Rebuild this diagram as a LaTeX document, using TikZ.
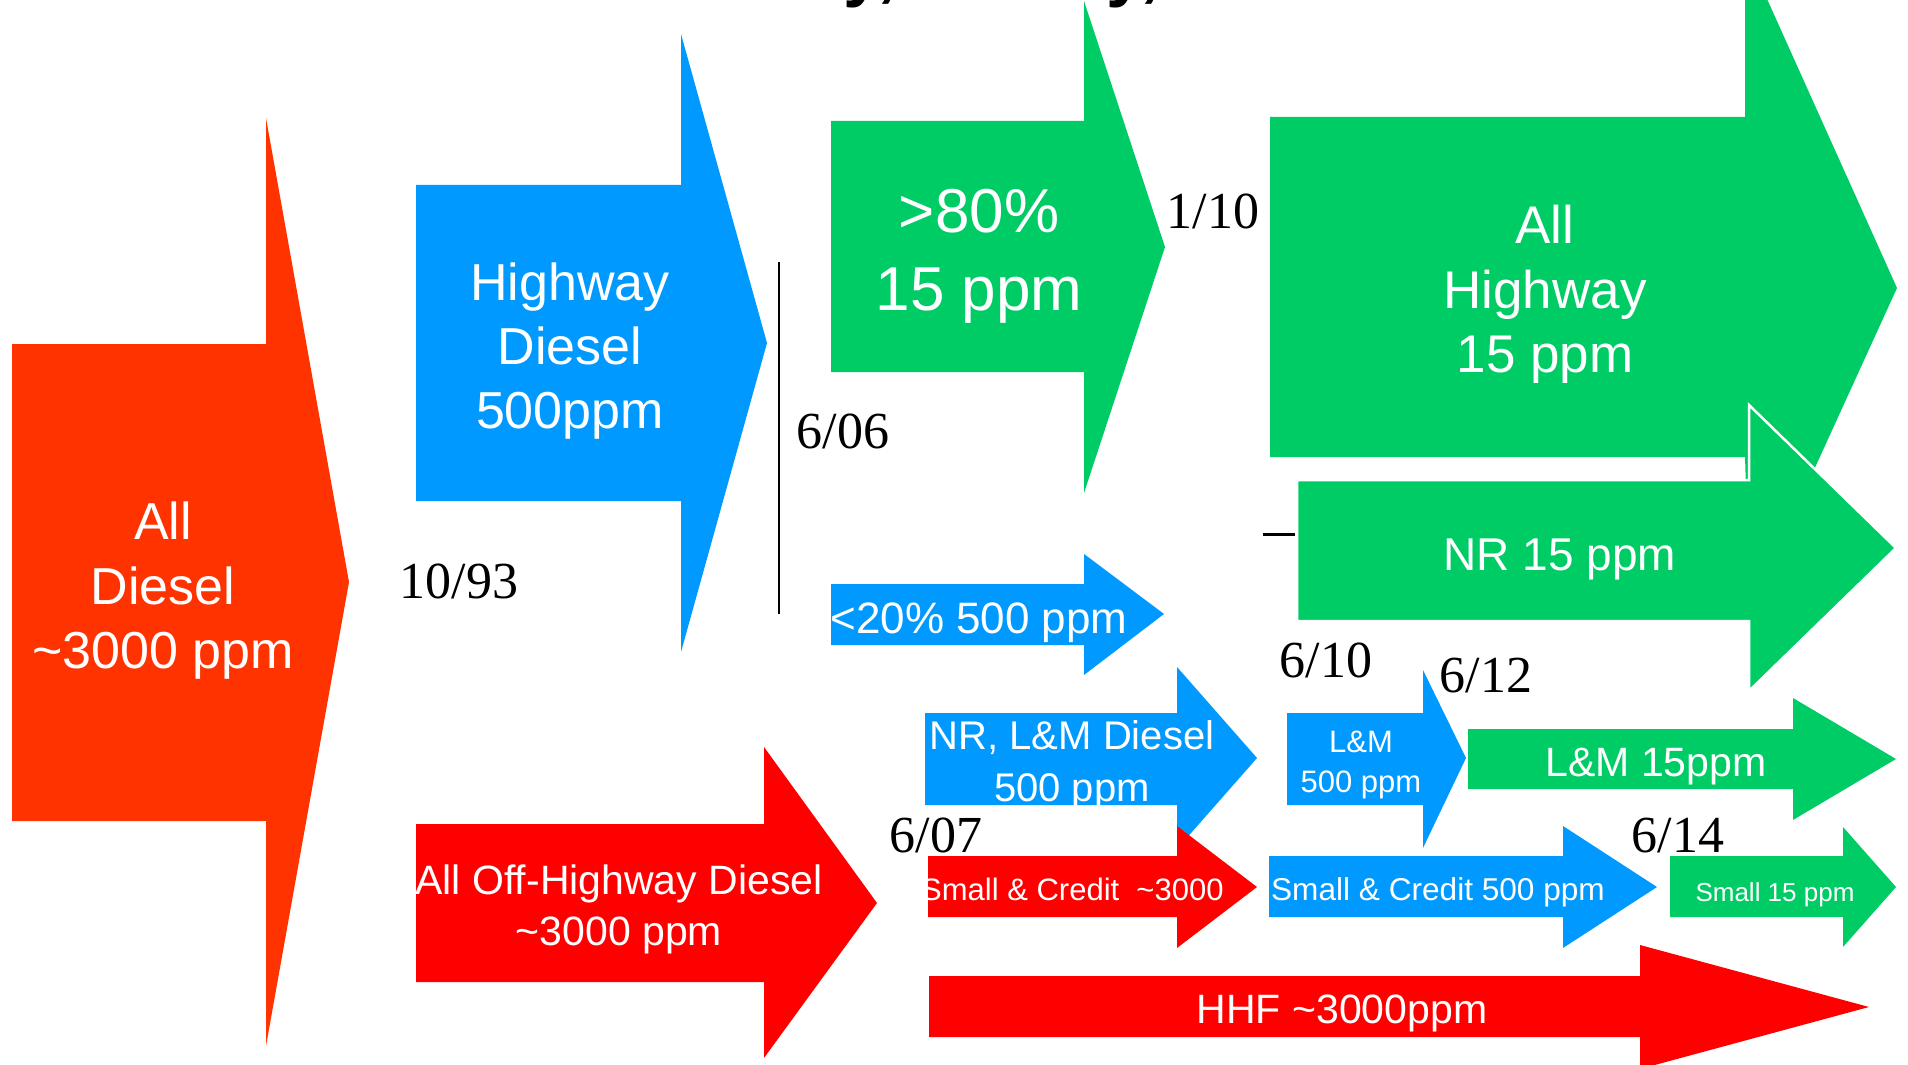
\documentclass[tikz,border=0pt]{standalone}
\usepackage{fontspec}
\setmainfont{Liberation Serif}
\newfontfamily\sansf{Liberation Sans}
\definecolor{cOrange}{HTML}{FF3300}
\definecolor{cBlue}{HTML}{0099FF}
\definecolor{cGreen}{HTML}{00CC66}
\definecolor{cRed}{HTML}{FF0000}
\newcommand\lsz[1]{\sansf\fontsize{#1}{#1}\selectfont}
\tikzset{
  lab/.style={text=white, inner sep=0pt, anchor=base},
  datelab/.style={text=black, inner sep=0pt, anchor=base, font={\fontsize{26}{26}\selectfont}},
  rulestroke/.style={draw=black, line width=1.25pt},
  titlefrag/.style={text=black, inner sep=0pt, anchor=base west, font={\sansf\bfseries\fontsize{35}{35}\selectfont}},
}
\begin{document}
\begin{tikzpicture}[x=0.5pt, y=-0.5pt]
\useasboundingbox (0,0) rectangle (1908,1065);
\clip (0,0) rectangle (1908,1065);

% title fragments cut off at the top
\node[titlefrag] (t1) at (843,-6) {y,};
\node[titlefrag] (t2) at (1106,-6) {y,};

% arrows
\fill[cOrange] (12,344) -- (266,344) -- (266,118) -- (349,582) -- (266,1046) -- (266,821) -- (12,821) -- cycle;
\fill[cBlue] (416,185) -- (681,185) -- (681,34) -- (767,343) -- (681,652) -- (681,501) -- (416,501) -- cycle;
\fill[cGreen] (831,121) -- (1084,121) -- (1084,1) -- (1165,247) -- (1084,493) -- (1084,372) -- (831,372) -- cycle;
\fill[cGreen] (1270,117) -- (1745,117) -- (1745,-50) -- (1897,288) -- (1750,610) -- (1745,457) -- (1270,457) -- cycle;
\filldraw[fill=cGreen, draw=white, line width=1.25pt] (1297,480) -- (1749,480) -- (1749,405) -- (1896,548) -- (1749,691) -- (1749,621) -- (1297,621) -- cycle;
\fill[cBlue] (831,584) -- (1084,584) -- (1084,554) -- (1164,614) -- (1084,675) -- (1084,645) -- (831,645) -- cycle;
\fill[cBlue] (925,713) -- (1177,713) -- (1177,667) -- (1257,758) -- (1177,849) -- (1177,805) -- (925,805) -- cycle;
\fill[cBlue] (1287,713) -- (1423,713) -- (1423,670) -- (1466,758) -- (1423,848) -- (1423,805) -- (1287,805) -- cycle;
\fill[cGreen] (1468,729) -- (1793,729) -- (1793,698) -- (1896,759) -- (1793,820) -- (1793,789) -- (1468,789) -- cycle;
\fill[cRed] (416,824) -- (764,824) -- (764,747) -- (877,903) -- (764,1058) -- (764,982) -- (416,982) -- cycle;
\fill[cRed] (928,856) -- (1177,856) -- (1177,826) -- (1257,887) -- (1177,948) -- (1177,917) -- (928,917) -- cycle;
\fill[cBlue] (1269,856) -- (1563,856) -- (1563,826) -- (1657,887) -- (1563,948) -- (1563,917) -- (1269,917) -- cycle;
\fill[cGreen] (1670,856) -- (1843,856) -- (1843,827) -- (1896,887) -- (1843,947) -- (1843,917) -- (1670,917) -- cycle;
\fill[cRed] (929,976) -- (1640,976) -- (1640,945) -- (1869,1007) -- (1640,1069) -- (1640,1037) -- (929,1037) -- cycle;

% labels in arrows
\node[lab, font={\lsz{26}}] (ad1) at (163,539) {All};
\node[lab, font={\lsz{26}}] (ad2) at (163,604) {Diesel};
\node[lab, font={\lsz{26}}] (ad3) at (163,668) {\textasciitilde3000 ppm};

\node[lab, font={\lsz{26}}] (hd1) at (570,300) {Highway};
\node[lab, font={\lsz{26}}] (hd2) at (570,364) {Diesel};
\node[lab, font={\lsz{26}}] (hd3) at (570,428) {500ppm};

\node[lab, font={\lsz{31}}] (p81) at (979,233) {>80\%};
\node[lab, font={\lsz{31}}] (p82) at (979,310) {15 ppm};

\node[lab, font={\lsz{26.5}}] (ah1) at (1545,243) {All};
\node[lab, font={\lsz{26.5}}] (ah2) at (1545,308) {Highway};
\node[lab, font={\lsz{26.5}}] (ah3) at (1545,372) {15 ppm};

\node[lab, font={\lsz{23}}] (nr) at (1560,570) {NR 15 ppm};

\node[lab, font={\lsz{22}}] (p20) at (979,633) {<20\% 500 ppm};

\node[lab, font={\lsz{20}}] (nl1) at (1072,749) {NR, L\&M Diesel};
\node[lab, font={\lsz{20}}] (nl2) at (1072,801) {500 ppm};

\node[lab, font={\lsz{15.5}}] (lm1) at (1361,752) {L\&M};
\node[lab, font={\lsz{15.5}}] (lm2) at (1361,792) {500 ppm};

\node[lab, font={\lsz{20.5}}] (lm15) at (1656,776) {L\&M 15ppm};

\node[lab, font={\lsz{20.5}}] (oh1) at (619,894) {All Off-Highway Diesel};
\node[lab, font={\lsz{20.5}}] (oh2) at (619,945) {\textasciitilde3000 ppm};

\node[lab, anchor=base east, font={\lsz{15.5}}] (sc3) at (1224,900) {Small \& Credit \ \textasciitilde3000};
\node[lab, font={\lsz{15.8}}] (sc5) at (1438,900) {Small \& Credit 500 ppm};
\node[lab, font={\lsz{13}}] (s15) at (1775,901) {Small 15 ppm};

\node[lab, font={\lsz{20.5}}] (hhf) at (1342,1023) {HHF \textasciitilde3000ppm};

% dates
\node[datelab] (d93) at (459,598) {10/93};
\node[datelab] (d606) at (843,448) {6/06};
\node[datelab] (d110) at (1213,228) {1/10};
\node[datelab] (d610) at (1326,677) {6/10};
\node[datelab] (d612) at (1486,692) {6/12};
\node[datelab] (d607) at (936,852) {6/07};
\node[datelab] (d614) at (1678,852) {6/14};

% rules
\coordinate (vtop) at (779,262);
\coordinate (vbot) at (779,614);
\draw[rulestroke] (vtop) -- (vbot);
\coordinate (dl) at (1263,534);
\coordinate (dr) at (1295,534);
\draw[rulestroke, line width=1.5pt] (dl) -- (dr);
\end{tikzpicture}
\end{document}
